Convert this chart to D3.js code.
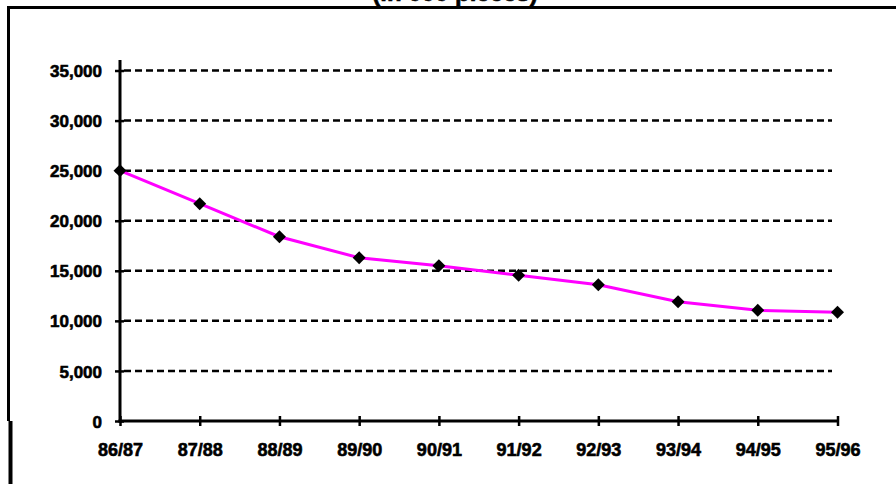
<!DOCTYPE html>
<html>
<head>
<meta charset="utf-8">
<script src="https://cdn.jsdelivr.net/npm/d3@7"></script>
<style>
  html, body { margin: 0; padding: 0; background: #fff; }
  svg { display: block; }
  text { font-family: "Liberation Sans", Arial, sans-serif; font-weight: bold; fill: #000; stroke: #000; stroke-width: 0.6px; }
</style>
</head>
<body>
<svg id="chart" width="896" height="484"></svg>
<script>
const title = "(in 000 pieces)";
const categories = ["86/87", "87/88", "88/89", "89/90", "90/91", "91/92", "92/93", "93/94", "94/95", "95/96"];
const values = [25000, 21700, 18400, 16300, 15500, 14550, 13600, 11900, 11050, 10850];
const yTicks = [0, 5000, 10000, 15000, 20000, 25000, 30000, 35000];

const svg = d3.select("#chart");
const W = 896, H = 484;

// frame
svg.append("line").attr("x1", 7).attr("x2", W).attr("y1", 7.5).attr("y2", 7.5)
  .attr("stroke", "#000").attr("stroke-width", 3);
svg.append("line").attr("x1", 8.5).attr("x2", 8.5).attr("y1", 6).attr("y2", 421)
  .attr("stroke", "#000").attr("stroke-width", 3);
svg.append("line").attr("x1", 10.5).attr("x2", 10.5).attr("y1", 421).attr("y2", H)
  .attr("stroke", "#000").attr("stroke-width", 4);

// title (cut at top, as in the reference)
svg.append("text").attr("x", 455).attr("y", 1).attr("text-anchor", "middle")
  .style("font-size", "24px").text(title);

const x = d3.scalePoint().domain(categories).range([120, 837.5]);
const y = d3.scaleLinear().domain([0, 35000]).range([421, 70.5]);

// gridlines
const grid = svg.append("g");
grid.selectAll("line").data(yTicks.filter(d => d > 0)).join("line")
  .attr("x1", 124).attr("x2", 832)
  .attr("y1", d => y(d)).attr("y2", d => y(d))
  .attr("stroke", "#000").attr("stroke-width", 2.5)
  .attr("stroke-dasharray", "7,4");

// y axis
const yAxis = svg.append("g").attr("transform", "translate(120,0)")
  .call(d3.axisLeft(y).tickValues(yTicks).tickSize(6).tickPadding(12)
    .tickFormat(d3.format(",")));
yAxis.select(".domain").remove();
yAxis.selectAll(".tick line").attr("stroke", "#000").attr("stroke-width", 2.5).attr("x2", -5).attr("x1", 4);
yAxis.selectAll(".tick text").style("font-size", "17px").attr("dy", "0.36em").attr("x", -18);
svg.append("line").attr("x1", 120).attr("x2", 120).attr("y1", 60).attr("y2", 422.5)
  .attr("stroke", "#000").attr("stroke-width", 3);

// x axis
const xAxis = svg.append("g").attr("transform", "translate(0,421)")
  .call(d3.axisBottom(x).tickSize(6).tickPadding(16));
xAxis.select(".domain").remove();
xAxis.selectAll(".tick line").attr("stroke", "#000").attr("stroke-width", 2.5).attr("y1", -5).attr("y2", 5);
xAxis.selectAll(".tick text").style("font-size", "18px");
svg.append("line").attr("x1", 118.5).attr("x2", x(categories[categories.length - 1])).attr("y1", 421).attr("y2", 421)
  .attr("stroke", "#000").attr("stroke-width", 3);

// line
const line = d3.line().x((d, i) => x(categories[i])).y(d => y(d));
svg.append("path").datum(values).attr("d", line)
  .attr("fill", "none").attr("stroke", "#FF00FF").attr("stroke-width", 3);

// markers
svg.append("g").selectAll("path").data(values).join("path")
  .attr("transform", (d, i) => `translate(${x(categories[i])},${y(d)}) rotate(45)`)
  .attr("d", d3.symbol().type(d3.symbolSquare).size(84))
  .attr("fill", "#000");
</script>
</body>
</html>
